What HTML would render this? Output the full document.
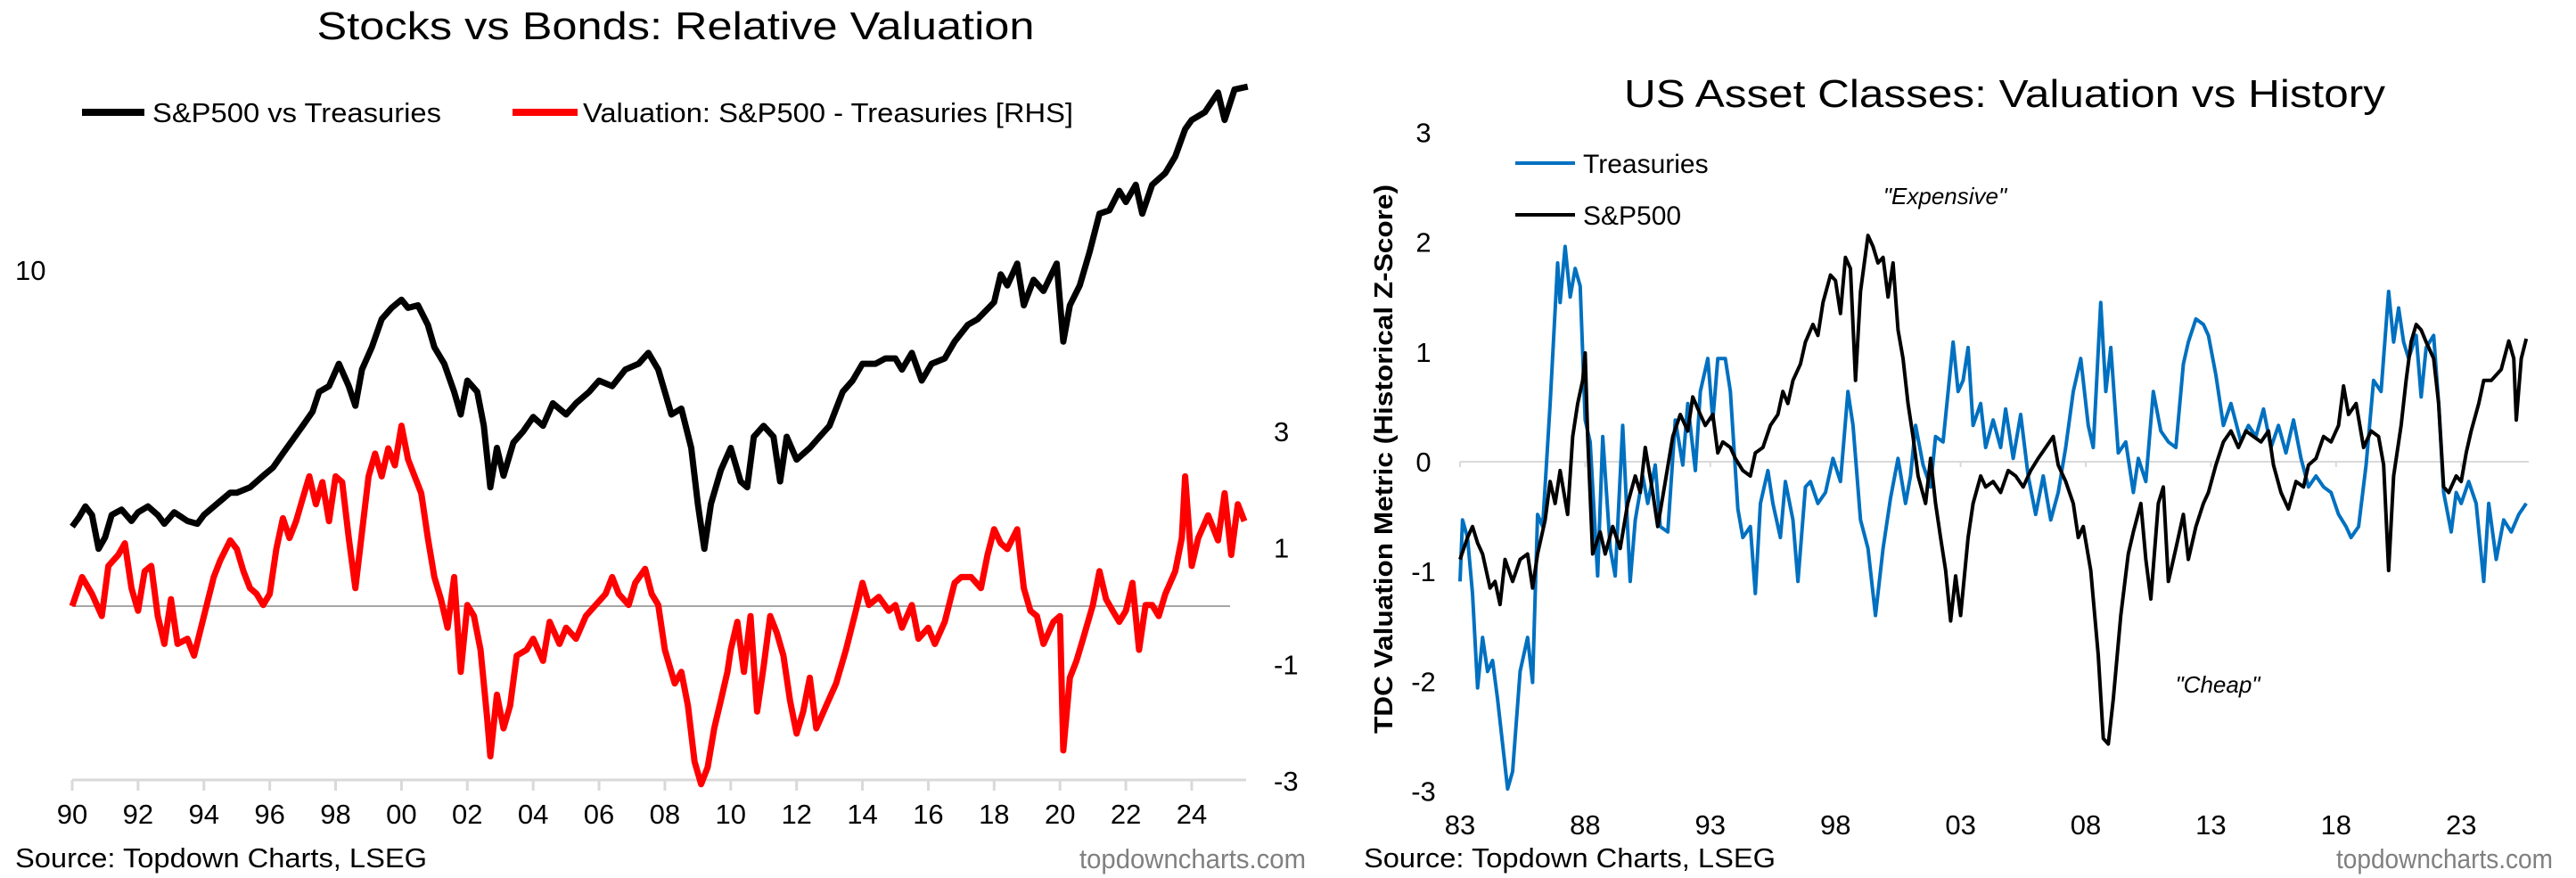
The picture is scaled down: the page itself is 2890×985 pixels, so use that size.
<!DOCTYPE html>
<html><head><meta charset="utf-8"><style>
html,body{margin:0;padding:0;background:#fff;}
svg{display:block;font-family:"Liberation Sans",Arial,sans-serif;}
</style></head><body>
<svg id="c" width="2890" height="985" viewBox="0 0 2890 985" xmlns="http://www.w3.org/2000/svg">
<g>
<text x="758" y="44" font-size="44" text-anchor="middle" textLength="805" lengthAdjust="spacingAndGlyphs">Stocks vs Bonds: Relative Valuation</text>
<line x1="92" y1="126" x2="162" y2="126" stroke="#000" stroke-width="8"/>
<text x="171" y="137" font-size="31" textLength="324" lengthAdjust="spacingAndGlyphs">S&amp;P500 vs Treasuries</text>
<line x1="575" y1="126" x2="648" y2="126" stroke="#f00" stroke-width="8"/>
<text x="654" y="137" font-size="31" textLength="550" lengthAdjust="spacingAndGlyphs">Valuation: S&amp;P500 - Treasuries [RHS]</text>
<text x="17" y="314" font-size="31">10</text>
<line x1="81" y1="680" x2="1380" y2="680" stroke="#a6a6a6" stroke-width="2"/>
<line x1="81" y1="875" x2="1398" y2="875" stroke="#d9d9d9" stroke-width="3"/>
<g id="lticks"></g>
<g id="lrhs"></g>
<path id="lblack" fill="none" stroke="#000" stroke-width="7" stroke-linejoin="round"/>
<path id="lred" fill="none" stroke="#f00" stroke-width="7" stroke-linejoin="round"/>
<text x="17" y="973" font-size="31" textLength="462" lengthAdjust="spacingAndGlyphs">Source: Topdown Charts, LSEG</text>
<text x="1211" y="974" font-size="31" fill="#808080" textLength="254" lengthAdjust="spacingAndGlyphs">topdowncharts.com</text>
</g>
<g>
<text x="2249" y="120" font-size="44" text-anchor="middle" textLength="854" lengthAdjust="spacingAndGlyphs">US Asset Classes: Valuation vs History</text>
<text transform="translate(1562,515) rotate(-90)" font-size="29" font-weight="bold" text-anchor="middle" textLength="616" lengthAdjust="spacingAndGlyphs">TDC Valuation Metric (Historical Z-Score)</text>
<line x1="1638" y1="518" x2="2837" y2="518" stroke="#d9d9d9" stroke-width="2"/>
<g id="rticks"></g>
<g id="ryt"></g>
<line x1="1700" y1="183" x2="1767" y2="183" stroke="#0070c0" stroke-width="4"/>
<text x="1776" y="194" font-size="30">Treasuries</text>
<line x1="1700" y1="241" x2="1767" y2="241" stroke="#000" stroke-width="4"/>
<text x="1776" y="252" font-size="30">S&amp;P500</text>
<path id="rblue" fill="none" stroke="#0070c0" stroke-width="4" stroke-linejoin="round"/>
<path id="rblack" fill="none" stroke="#000" stroke-width="4" stroke-linejoin="round"/>
<text x="2182" y="229" font-size="26" font-style="italic" text-anchor="middle">"Expensive"</text>
<text x="2488" y="777" font-size="26" font-style="italic" text-anchor="middle">"Cheap"</text>
<text x="1530" y="973" font-size="31" textLength="462" lengthAdjust="spacingAndGlyphs">Source: Topdown Charts, LSEG</text>
<text x="2864" y="974" font-size="31" fill="#808080" text-anchor="end" textLength="243" lengthAdjust="spacingAndGlyphs">topdowncharts.com</text>
</g>
</svg>
<script>
var NS="http://www.w3.org/2000/svg";
// ---- Left chart data ----
var lBlackYears=[1990.0,1990.2,1990.4,1990.6,1990.8,1991.0,1991.2,1991.5,1991.8,1992.0,1992.3,1992.6,1992.8,1993.1,1993.5,1993.8,1994.0,1994.4,1994.8,1995.0,1995.4,1995.8,1996.1,1996.4,1996.7,1997.0,1997.3,1997.5,1997.8,1998.1,1998.4,1998.6,1998.8,1999.1,1999.4,1999.7,2000.0,2000.2,2000.5,2000.8,2001.0,2001.3,2001.6,2001.8,2002.0,2002.3,2002.5,2002.7,2002.9,2003.1,2003.4,2003.7,2004.0,2004.3,2004.6,2005.0,2005.3,2005.7,2006.0,2006.4,2006.8,2007.2,2007.5,2007.8,2008.0,2008.2,2008.5,2008.8,2009.0,2009.2,2009.4,2009.7,2010.0,2010.3,2010.5,2010.7,2011.0,2011.3,2011.5,2011.7,2012.0,2012.4,2012.7,2013.0,2013.4,2013.7,2014.0,2014.4,2014.7,2015.0,2015.2,2015.5,2015.8,2016.1,2016.5,2016.8,2017.2,2017.5,2018.0,2018.2,2018.4,2018.7,2018.9,2019.2,2019.5,2019.9,2020.1,2020.3,2020.6,2020.9,2021.2,2021.5,2021.8,2022.0,2022.3,2022.5,2022.8,2023.2,2023.5,2023.8,2024.0,2024.4,2024.8,2025.0,2025.3,2025.7];
var lBlackValues=[3.14,3.27,3.44,3.31,2.84,2.99,3.31,3.39,3.22,3.35,3.44,3.31,3.18,3.35,3.22,3.18,3.31,3.48,3.66,3.66,3.75,3.95,4.10,4.37,4.65,4.95,5.28,5.77,5.92,6.55,5.92,5.42,6.38,7.06,8.01,8.43,8.75,8.43,8.53,7.81,7.06,6.55,5.77,5.21,6.07,5.77,4.95,3.75,4.48,3.95,4.59,4.83,5.15,4.95,5.48,5.21,5.48,5.77,6.07,5.92,6.38,6.55,6.88,6.38,5.77,5.21,5.35,4.48,3.48,2.84,3.48,4.05,4.48,3.85,3.75,4.71,4.95,4.71,3.85,4.71,4.25,4.48,4.71,4.95,5.77,6.07,6.55,6.55,6.71,6.71,6.38,6.88,6.07,6.55,6.71,7.24,7.81,8.01,8.65,9.81,9.33,10.3,8.53,9.57,9.10,10.3,7.24,8.53,9.33,10.85,12.9,13.1,14.3,13.6,14.7,12.9,14.7,15.5,16.7,18.9,19.7,20.4,22.3,19.7,22.6,22.9];
var lRedYears=[1990.0,1990.3,1990.6,1990.9,1991.1,1991.4,1991.6,1991.8,1992.0,1992.2,1992.4,1992.6,1992.8,1993.0,1993.2,1993.5,1993.7,1994.0,1994.3,1994.5,1994.8,1995.0,1995.2,1995.4,1995.6,1995.8,1996.0,1996.2,1996.4,1996.6,1996.8,1997.0,1997.2,1997.4,1997.6,1997.8,1998.0,1998.2,1998.4,1998.6,1998.8,1999.0,1999.2,1999.4,1999.6,1999.8,2000.0,2000.2,2000.4,2000.6,2000.8,2001.0,2001.2,2001.4,2001.6,2001.8,2002.0,2002.2,2002.4,2002.6,2002.7,2002.9,2003.1,2003.3,2003.5,2003.8,2004.0,2004.3,2004.5,2004.8,2005.0,2005.3,2005.6,2005.9,2006.2,2006.4,2006.6,2006.9,2007.1,2007.4,2007.6,2007.8,2008.0,2008.3,2008.5,2008.7,2008.9,2009.1,2009.3,2009.5,2009.7,2009.9,2010.0,2010.2,2010.4,2010.6,2010.8,2011.0,2011.2,2011.4,2011.6,2011.8,2012.0,2012.2,2012.4,2012.6,2012.9,2013.2,2013.5,2013.8,2014.0,2014.2,2014.5,2014.8,2015.0,2015.2,2015.5,2015.7,2016.0,2016.2,2016.5,2016.8,2017.0,2017.3,2017.6,2017.8,2018.0,2018.2,2018.4,2018.7,2018.9,2019.1,2019.3,2019.5,2019.8,2020.0,2020.1,2020.3,2020.5,2020.7,2021.0,2021.2,2021.4,2021.6,2021.8,2022.0,2022.2,2022.4,2022.6,2022.8,2023.0,2023.2,2023.5,2023.7,2023.8,2024.0,2024.2,2024.5,2024.8,2025.0,2025.2,2025.4,2025.6];
var lRedValues=[0,0.5,0.21,-0.17,0.69,0.88,1.08,0.31,-0.08,0.6,0.69,-0.17,-0.65,0.12,-0.65,-0.56,-0.85,-0.17,0.5,0.79,1.13,0.98,0.6,0.31,0.21,0.02,0.21,0.98,1.51,1.17,1.46,1.85,2.23,1.75,2.13,1.46,2.23,2.13,1.17,0.31,1.27,2.23,2.62,2.23,2.71,2.42,3.1,2.52,2.23,1.94,1.17,0.5,0.12,-0.37,0.5,-1.13,0.02,-0.17,-0.75,-1.9,-2.58,-1.52,-2.1,-1.71,-0.85,-0.75,-0.56,-0.94,-0.27,-0.65,-0.37,-0.56,-0.17,0.02,0.21,0.5,0.21,0.02,0.4,0.64,0.21,0.02,-0.75,-1.33,-1.13,-1.71,-2.67,-3.06,-2.77,-2.1,-1.62,-1.13,-0.75,-0.27,-1.13,-0.17,-1.81,-1.04,-0.17,-0.46,-0.85,-1.62,-2.19,-1.81,-1.23,-2.1,-1.71,-1.33,-0.75,-0.08,0.4,0.02,0.16,-0.08,0.02,-0.37,0.02,-0.56,-0.37,-0.65,-0.27,0.4,0.5,0.5,0.31,0.88,1.32,1.08,0.98,1.32,0.31,-0.08,-0.17,-0.65,-0.27,-0.17,-2.48,-1.23,-0.94,-0.56,0.02,0.6,0.12,-0.08,-0.27,-0.08,0.4,-0.75,0.02,0.02,-0.17,0.21,0.6,1.17,2.23,0.69,1.17,1.56,1.13,1.94,0.88,1.75,1.46];
var lXTickYears=[1990,1992,1994,1996,1998,2000,2002,2004,2006,2008,2010,2012,2014,2016,2018,2020,2022,2024];
var lXTickLabels=["90","92","94","96","98","00","02","04","06","08","10","12","14","16","18","20","22","24"];
var lRhsTicks=[3,1,-1,-3];
// ---- Right chart data ----
var rTreasYears=[1983.0,1983.1,1983.3,1983.5,1983.7,1983.9,1984.1,1984.3,1984.5,1984.9,1985.1,1985.4,1985.7,1985.9,1986.1,1986.3,1986.6,1986.9,1987.0,1987.2,1987.4,1987.6,1987.8,1988.0,1988.2,1988.5,1988.7,1989.0,1989.2,1989.5,1989.8,1990.0,1990.3,1990.5,1990.8,1991.0,1991.3,1991.6,1991.9,1992.1,1992.4,1992.6,1992.9,1993.1,1993.3,1993.6,1993.8,1994.1,1994.3,1994.6,1994.8,1995.0,1995.3,1995.5,1995.8,1996.0,1996.3,1996.5,1996.8,1997.0,1997.3,1997.6,1997.9,1998.2,1998.5,1998.7,1999.0,1999.3,1999.6,1999.9,2000.2,2000.5,2000.8,2001.0,2001.2,2001.5,2001.8,2002.0,2002.3,2002.7,2002.9,2003.1,2003.3,2003.5,2003.8,2004.0,2004.3,2004.6,2004.8,2005.1,2005.4,2005.7,2006.0,2006.3,2006.6,2006.9,2007.2,2007.5,2007.8,2008.1,2008.3,2008.6,2008.8,2009.0,2009.3,2009.6,2009.9,2010.1,2010.4,2010.7,2011.0,2011.3,2011.6,2011.9,2012.1,2012.4,2012.7,2012.9,2013.2,2013.5,2013.8,2014.2,2014.5,2014.8,2015.1,2015.4,2015.7,2016.0,2016.3,2016.6,2016.9,2017.2,2017.5,2017.8,2018.1,2018.4,2018.6,2018.9,2019.2,2019.5,2019.8,2020.1,2020.3,2020.5,2020.7,2020.9,2021.2,2021.4,2021.6,2021.9,2022.1,2022.3,2022.6,2022.8,2023.0,2023.3,2023.6,2023.9,2024.1,2024.4,2024.7,2025.0,2025.3,2025.6];
var rTreasValues=[-1.09,-0.53,-0.69,-1.2,-2.06,-1.6,-1.91,-1.81,-2.16,-2.98,-2.82,-1.91,-1.6,-2.01,-0.48,-0.59,0.53,1.81,1.45,1.96,1.5,1.76,1.6,0.38,0.18,-1.04,0.23,-0.79,-1.04,0.33,-1.09,-0.53,-0.13,-0.38,-0.03,-0.59,-0.64,0.38,-0.03,0.53,-0.08,0.64,0.94,0.38,0.94,0.94,0.64,-0.43,-0.69,-0.59,-1.2,-0.38,-0.08,-0.38,-0.69,-0.18,-0.53,-1.09,-0.23,-0.18,-0.38,-0.28,0.03,-0.18,0.64,0.33,-0.53,-0.79,-1.4,-0.79,-0.33,0.03,-0.38,-0.13,0.33,-0.03,-0.23,0.23,0.18,1.09,0.64,0.74,1.04,0.33,0.53,0.13,0.38,0.13,0.48,0.03,0.43,-0.13,-0.48,-0.13,-0.53,-0.28,0.13,0.64,0.94,0.33,0.13,1.45,0.64,1.04,0.08,0.18,-0.28,0.03,-0.18,0.64,0.28,0.18,0.13,0.89,1.09,1.3,1.25,1.15,0.79,0.33,0.53,0.18,0.33,0.23,0.48,0.13,0.33,0.08,0.38,0.03,-0.23,-0.13,-0.23,-0.28,-0.48,-0.59,-0.69,-0.59,-0.03,0.74,0.64,1.55,1.09,1.4,1.09,0.94,1.15,0.59,1.04,1.15,0.53,-0.28,-0.64,-0.28,-0.38,-0.18,-0.38,-1.09,-0.38,-0.89,-0.53,-0.64,-0.48,-0.38];
var rSpxYears=[1983.0,1983.3,1983.5,1983.7,1983.9,1984.2,1984.4,1984.6,1984.8,1985.1,1985.4,1985.7,1985.9,1986.1,1986.4,1986.6,1986.8,1987.0,1987.3,1987.5,1987.7,1987.9,1988.0,1988.1,1988.3,1988.6,1988.8,1989.1,1989.4,1989.7,1990.0,1990.2,1990.4,1990.7,1990.9,1991.2,1991.5,1991.8,1992.1,1992.3,1992.6,1992.8,1993.1,1993.3,1993.5,1993.8,1994.0,1994.3,1994.6,1994.8,1995.1,1995.4,1995.7,1995.9,1996.1,1996.3,1996.6,1996.8,1997.1,1997.3,1997.5,1997.8,1998.0,1998.2,1998.4,1998.6,1998.8,1999.0,1999.3,1999.5,1999.7,1999.9,2000.1,2000.3,2000.5,2000.7,2000.9,2001.1,2001.3,2001.6,2001.8,2002.0,2002.2,2002.4,2002.6,2002.8,2003.0,2003.3,2003.5,2003.8,2004.0,2004.3,2004.6,2004.9,2005.2,2005.5,2005.8,2006.1,2006.4,2006.7,2006.9,2007.2,2007.5,2007.7,2007.9,2008.2,2008.5,2008.7,2008.9,2009.1,2009.4,2009.7,2009.9,2010.2,2010.4,2010.6,2010.9,2011.1,2011.3,2011.6,2011.9,2012.1,2012.4,2012.7,2012.9,2013.2,2013.5,2013.8,2014.1,2014.4,2014.7,2015.0,2015.3,2015.5,2015.8,2016.1,2016.4,2016.7,2016.9,2017.2,2017.5,2017.8,2018.1,2018.3,2018.5,2018.8,2019.1,2019.4,2019.7,2019.9,2020.1,2020.3,2020.6,2020.8,2021.0,2021.2,2021.4,2021.6,2021.9,2022.1,2022.3,2022.5,2022.8,2023.0,2023.2,2023.4,2023.7,2023.9,2024.2,2024.6,2024.9,2025.1,2025.2,2025.4,2025.6];
var rSpxValues=[-0.89,-0.69,-0.59,-0.74,-0.84,-1.15,-1.09,-1.3,-0.89,-1.09,-0.89,-0.84,-1.15,-0.84,-0.53,-0.18,-0.38,-0.08,-0.48,0.23,0.53,0.74,0.99,0.23,-0.84,-0.64,-0.84,-0.59,-0.79,-0.38,-0.13,-0.28,0.13,-0.28,-0.59,-0.18,0.23,0.43,0.28,0.59,0.43,0.33,0.43,0.08,0.18,0.13,0.03,-0.08,-0.13,0.08,0.13,0.33,0.43,0.64,0.53,0.74,0.89,1.09,1.25,1.15,1.45,1.7,1.65,1.35,1.86,1.76,0.74,1.55,2.06,1.96,1.81,1.86,1.5,1.81,1.2,0.94,0.53,0.23,-0.13,-0.38,0.03,-0.38,-0.69,-0.99,-1.45,-1.04,-1.4,-0.69,-0.38,-0.13,-0.23,-0.18,-0.28,-0.08,-0.13,-0.23,-0.08,0.03,0.13,0.23,-0.03,-0.18,-0.38,-0.69,-0.59,-0.99,-1.76,-2.52,-2.57,-2.16,-1.4,-0.84,-0.64,-0.38,-0.89,-1.25,-0.38,-0.23,-1.09,-0.79,-0.48,-0.89,-0.59,-0.38,-0.28,-0.03,0.18,0.28,0.13,0.28,0.23,0.18,0.28,-0.03,-0.28,-0.43,-0.18,-0.23,-0.03,0.03,0.23,0.18,0.33,0.69,0.43,0.53,0.13,0.28,0.23,-0.03,-0.99,-0.13,0.33,0.74,1.09,1.25,1.2,1.09,0.94,0.53,-0.23,-0.28,-0.13,-0.18,0.08,0.28,0.53,0.74,0.74,0.84,1.1,0.94,0.38,0.94,1.12];
var rXTickYears=[1983,1988,1993,1998,2003,2008,2013,2018,2023];
var rXTickLabels=["83","88","93","98","03","08","13","18","23"];
var rYTicks=[3,2,1,0,-1,-2,-3];

// ---- Axis functions ----
function xL(y){return 81+(y-1990)*36.94;}
function yRed(v){return 680-v*65.3;}
function yBlk(v){return 875-572*Math.log10(v);}
function xR(y){return 1638+(y-1983)*28.08;}
function yR(v){return 518-v*123.2;}

function pathOf(xs,vs,fx,fy){
  var d="";
  for(var i=0;i<xs.length;i++){d+=(i?"L":"M")+fx(xs[i]).toFixed(1)+","+fy(vs[i]).toFixed(1);}
  return d;
}
document.getElementById("lblack").setAttribute("d",pathOf(lBlackYears,lBlackValues,xL,yBlk));
document.getElementById("lred").setAttribute("d",pathOf(lRedYears,lRedValues,xL,yRed));
document.getElementById("rblue").setAttribute("d",pathOf(rTreasYears,rTreasValues,xR,yR));
document.getElementById("rblack").setAttribute("d",pathOf(rSpxYears,rSpxValues,xR,yR));

function mk(tag,attrs,parent,txt){
  var e=document.createElementNS(NS,tag);
  for(var k in attrs){e.setAttribute(k,attrs[k]);}
  if(txt!==undefined){e.textContent=txt;}
  parent.appendChild(e);return e;
}
var lt=document.getElementById("lticks");
for(var i=0;i<lXTickYears.length;i++){
  var x=xL(lXTickYears[i]);
  var tk=mk("line",{x1:x,y1:875,x2:x,y2:887,stroke:"#d9d9d9","stroke-width":3},lt);
  
  
  var tl=mk("text",{x:x,y:924,"font-size":31,"text-anchor":"middle"},lt,lXTickLabels[i]);
  
  
}
var lr=document.getElementById("lrhs");
for(var i=0;i<lRhsTicks.length;i++){
  var t=mk("text",{x:1429,y:yRed(lRhsTicks[i])+11,"font-size":31},lr,String(lRhsTicks[i]));
  
  
}
var rt=document.getElementById("rticks");
for(var i=0;i<rXTickYears.length;i++){
  var x=xR(rXTickYears[i]);
  var tk=mk("line",{x1:x,y1:518,x2:x,y2:524,stroke:"#d9d9d9","stroke-width":2},rt);
  
  
  var tl=mk("text",{x:x,y:936,"font-size":31,"text-anchor":"middle"},rt,rXTickLabels[i]);
  
  
}
var ry=document.getElementById("ryt");
for(var i=0;i<rYTicks.length;i++){
  var t=mk("text",{x:1597,y:yR(rYTicks[i])+11,"font-size":31,"text-anchor":"middle"},ry,String(rYTicks[i]));
  
  
}
</script>
</body></html>
